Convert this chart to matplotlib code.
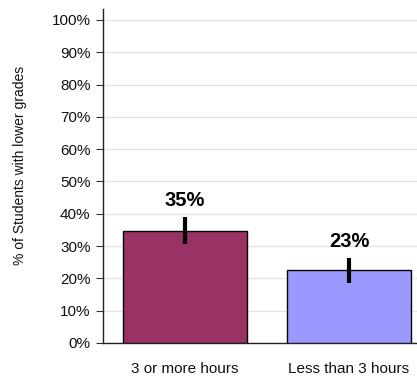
import matplotlib
matplotlib.use("Agg")
import matplotlib.pyplot as plt
from matplotlib.ticker import PercentFormatter

categories = ["3 or more hours", "Less than 3 hours"]
values = [34.8, 22.6]
err_low = [30.6, 18.7]
err_high = [38.9, 26.4]
labels = ["35%", "23%"]
colors = ["#993366", "#9999FF"]
yticks = [0, 10, 20, 30, 40, 50, 60, 70, 80, 90, 100]

W, H = 417, 377
fig = plt.figure(figsize=(W / 100, H / 100), dpi=100)
ax = fig.add_axes([103 / W, (H - 343) / H, (W - 103) / W, (343 - 9) / H])

x = list(range(len(categories)))
ax.bar(x, values, width=0.756, color=colors, edgecolor="black", linewidth=1.0, zorder=3)
yerr = [[v - lo for v, lo in zip(values, err_low)], [hi - v for v, hi in zip(values, err_high)]]
ax.errorbar(x, values, yerr=yerr, fmt="none", ecolor="black", elinewidth=3, capsize=0, zorder=4)
for xi, hi, lab in zip(x, err_high, labels):
    ax.annotate(lab, (xi, hi), xytext=(0, 5), textcoords="offset points",
                ha="center", va="bottom", fontsize=14.5, fontweight="bold",
                family="Liberation Sans")

ax.set_xlim(-0.5, 1.415)
ax.set_ylim(0, 103.4)
ax.set_yticks(yticks)
ax.yaxis.set_major_formatter(PercentFormatter(decimals=0))
ax.set_xticks(x)
ax.set_xticklabels(categories)
ax.tick_params(axis="x", length=0, pad=14, labelsize=11, labelcolor="#111111")
ax.tick_params(axis="y", length=5, width=0.8, color="#333333", pad=4, labelsize=11,
               labelcolor="#111111")
for t in ax.get_xticklabels() + ax.get_yticklabels():
    t.set_family("Liberation Sans")
ax.yaxis.grid(True, color="#e4e4e4", linewidth=1.0, zorder=0)
ax.set_axisbelow(True)
for s in ["top", "right"]:
    ax.spines[s].set_visible(False)
for s in ["left", "bottom"]:
    ax.spines[s].set_color("#222222")
    ax.spines[s].set_linewidth(1.0)
fig.text(20 / W, 1 - 165 / H, "% of Students with lower grades", rotation=90,
         ha="center", va="center", fontsize=10, family="Liberation Sans", color="#111111")

fig.savefig("out.png", dpi=100)
